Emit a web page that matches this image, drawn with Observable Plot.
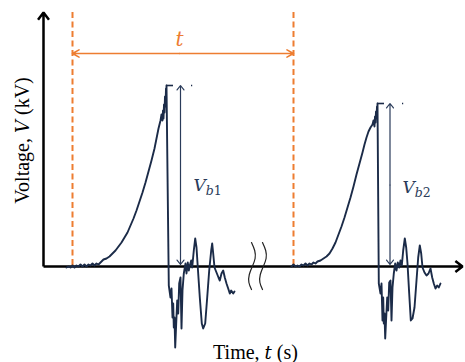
<!DOCTYPE html>
<html><head><meta charset="utf-8">
<script src="https://cdn.jsdelivr.net/npm/d3@7"></script>
<script src="https://cdn.jsdelivr.net/npm/@observablehq/plot@0.6"></script>
<style>html,body{margin:0;padding:0;background:#fff}#chart svg{display:block}
#chart text.serif, #chart text.serif tspan.r{font-family:"Liberation Serif","Times New Roman",Tinos,serif !important}
#chart tspan.m, #chart text.m{font-family:"DejaVu Serif",serif !important;font-style:italic}
</style>
</head><body><div id="chart"></div>
<script>
// ---- data (time in arbitrary units, voltage in kV) ----
const wave1 = [[11.5,-0.05],[12.5,0],[13.5,-0.05],[14.5,0.05],[15.5,-0.05],[16.5,0.05],[17.5,0],[18.5,0.1],[19.5,0],[20.5,0.1],[21.5,0],[22.5,0.1],[23.5,0.05],[24.5,0.15],[25.5,0.05],[26.5,0.15],[27.5,0.1],[28.5,0.2],[30,0.35],[31.5,0.4],[33,0.5],[34.5,0.65],[36,0.8],[37.5,1.0],[39,1.2],[40.5,1.45],[42,1.7],[43.5,2.05],[45,2.4],[46.5,2.8],[48,3.25],[49.5,3.7],[51,4.2],[52.5,4.75],[54,5.3],[55.5,5.9],[56.5,6.4],[57.5,6.9],[58.5,7.3],[59,7.6],[59.5,7.3],[59.75,7.8],[60,7.4],[60.25,8.1],[60.5,7.7],[60.75,8.5],[61,8.0],[61.25,8.9],[61.5,8.55],[61.5,9.05],
[62.65,-0.95],[63.5,-1.55],[64,-1.1],[64.5,-2.55],[64.85,-1.85],[65.15,-3.05],[65.5,-2.55],[65.85,-4.05],[66.35,-2.85],[66.85,-1.7],[67.35,-2.35],[67.85,-0.85],[68.5,-0.55],[69,-3.1],[69.5,-1.2],[70.15,-0.35],[71,0.15],[71.5,-0.35],[72.15,0.2],[72.65,-0.2],[73.15,0.05],[73.85,0.3],[74.35,-0.05],[75.15,0.8],[75.85,1.4],[76.5,0.95],[77.15,-0.05],[78.15,-1.55],[79.15,-2.85],[79.85,-3.1],[80.85,-2.85],[81.85,-1.55],[82.85,-0.2],[83.85,0.8],[84.35,1.15],[84.85,0.65],[85.5,-0.05],[86.5,-0.3],[87.5,-0.55],[88.15,-0.7],[89,-0.35],[89.85,-0.2],[90.65,-0.55],[91.5,-0.85],[92.35,-1.1],[93.15,-1.35],[93.85,-1.2],[94.85,-1.35],[95.5,-1.25]];

const wave2 = [[124,0],[125,0.1],[126,0],[127,0.05],[128,0],[129,0.1],[130,0.05],[131,0.15],[132,0.05],[133,0.15],[134,0.1],[135,0.2],[136,0.15],[137,0.25],[138.5,0.3],[140,0.4],[141.5,0.5],[143,0.65],[144.5,0.9],[146,1.2],[147.5,1.6],[149,2.0],[150.5,2.45],[152,2.95],[153.5,3.45],[155,4.0],[156.5,4.6],[158,5.15],[159.5,5.7],[160.5,6.1],[161.5,6.45],[162.5,6.75],[163.5,6.95],[164.5,7.1],[165,7.3],[165.5,7.0],[165.75,7.5],[166,7.2],[166.25,7.75],[166.5,7.45],[166.75,8.0],[167,7.7],[167,8.15],
[167.65,-0.85],[168.5,-1.35],[169,-0.85],[169.5,-2.7],[169.85,-1.55],[170.15,-2.85],[170.5,-2.35],[170.85,-3.6],[171.35,-2.55],[171.85,-1.55],[172.35,-2.2],[172.85,-0.8],[173.5,-0.7],[174,-2.7],[174.5,-1.05],[175.15,-0.35],[175.85,0.15],[176.5,-0.2],[177.15,0.2],[177.85,-0.05],[178.5,0.3],[179.15,0.05],[179.85,0.8],[180.65,1.4],[181.35,0.95],[182,0.15],[182.85,-1.35],[183.65,-2.7],[184.5,-2.6],[185.5,-2.05],[186.5,-0.7],[187.35,0.45],[188.15,1.05],[188.85,0.65],[189.5,-0.05],[190.5,-0.3],[191.5,-0.45],[192.5,-0.35],[193.5,-0.1],[194.35,-0.55],[195.15,-0.85],[196,-1.1],[196.85,-0.95],[197.65,-1.05],[198.5,-0.85]];

// cycle markers and breakdown annotations
const cycleStartT = [14.5, 125];
const periodArrowV = 10.65;
const periodLabelT = 68;
const peakT = [61.5, 167];
const peakV = [9.05, 8.15];
const peakTickEndT = [65, 170.5];
const peakDotT = [74, 179.5];
const vbArrowT = [68.5, 173.25];
const vbLabelT = [75, 179.5];
const vbLabelV = [4.05, 3.95];
const vbLabels = ["Vb1", "Vb2"];
// axis extents
const axisXEnd = 209.5;
const axisYEnd = 12.7;
const axisBreak1 = [[104,1.2],[105.6,0.8],[105.8,0.4],[104.4,0],[102.9,-0.4],[102.7,-0.8],[104,-1.15]];
const axisBreak2 = [[109.5,1.2],[111.1,0.8],[111.3,0.4],[109.9,0],[108.4,-0.4],[108.2,-0.8],[109.5,-1.15]];
const axisTitles = {x: "Time, t (s)", y: "Voltage, V (kV)"};

const navy = "#1b2b48";
const navy2 = "#2a3b5a";
const orange = "#ed7d31";

const peaks = peakT.map((t, i) => ({t, v: peakV[i], tEnd: peakTickEndT[i], dot: peakDotT[i], at: vbArrowT[i], lt: vbLabelT[i], lv: vbLabelV[i], label: vbLabels[i]}));

const plot = Plot.plot({
  width: 465, height: 362,
  marginLeft: 0, marginRight: 0, marginTop: 0, marginBottom: 0,
  style: {background: "#fff", overflow: "visible"},
  x: {type: "linear", domain: [0, 210], range: [43, 463], axis: null},
  y: {type: "linear", domain: [0, 12.7], range: [266, 12], axis: null},
  marks: [
    Plot.ruleX(cycleStartT, {x: d => d, y1: axisYEnd, y2: 0, stroke: orange, strokeWidth: 2, strokeDasharray: "6,3.5"}),
    Plot.arrow([0], {x1: 0, y1: 0, x2: 0, y2: axisYEnd, stroke: "#000", strokeWidth: 2.5, headLength: 5.4, headAngle: 75, strokeLinecap: "butt"}),
    Plot.arrow([0], {x1: 0, y1: 0, x2: axisXEnd, y2: 0, stroke: "#000", strokeWidth: 2.5, headLength: 5.4, headAngle: 75, strokeLinecap: "butt"}),
    Plot.line(axisBreak1, {x: "0", y: "1", curve: "natural", stroke: "#222", strokeWidth: 1.2}),
    Plot.line(axisBreak2, {x: "0", y: "1", curve: "natural", stroke: "#222", strokeWidth: 1.2}),
    Plot.line(wave1, {x: "0", y: "1", stroke: navy, strokeWidth: 1.9, strokeLinejoin: "round"}),
    Plot.line(wave2, {x: "0", y: "1", stroke: navy, strokeWidth: 1.9, strokeLinejoin: "round"}),
    Plot.ruleY(peaks, {y: "v", x1: "t", x2: "tEnd", stroke: navy, strokeWidth: 1.6}),
    Plot.ruleY(peaks, {y: "v", x1: "dot", x2: d => d.dot + 0.6, stroke: navy, strokeWidth: 1.6}),
    Plot.arrow(peaks, {x1: "at", y1: d => d.v / 2, x2: "at", y2: "v", stroke: navy2, strokeWidth: 1.2, headLength: 7, headAngle: 76}),
    Plot.arrow(peaks, {x1: "at", y1: d => d.v / 2, x2: "at", y2: 0.1, stroke: navy2, strokeWidth: 1.2, headLength: 7, headAngle: 76}),
    Plot.text(peaks, {x: "lt", y: "lv", text: "label", textAnchor: "start", fill: navy2, fontSize: 17}),
    Plot.arrow([0], {x1: periodLabelT, y1: periodArrowV, x2: cycleStartT[0], y2: periodArrowV, stroke: orange, strokeWidth: 1.6, headLength: 7, headAngle: 58}),
    Plot.arrow([0], {x1: periodLabelT, y1: periodArrowV, x2: cycleStartT[1], y2: periodArrowV, stroke: orange, strokeWidth: 1.6, headLength: 7, headAngle: 58}),
    Plot.text(["t"], {x: periodLabelT, y: 11.35, text: d => d, fill: orange, fontSize: 20}),
    Plot.text([axisTitles.x], {x: 106, y: -4.28, text: d => d, fill: "#000", fontSize: 20}),
    Plot.text([axisTitles.y], {x: -10.7, y: 6.3, text: d => d, rotate: -90, fill: "#000", fontSize: 20})
  ]
});

document.getElementById("chart").appendChild(plot);

// rich text: serif titles, italic math symbols and subscripts
d3.select(plot).selectAll("text").each(function () {
  const s = this.textContent;
  const el = d3.select(this);
  if (s === axisTitles.x) {
    el.classed("serif", true).text("");
    el.append("tspan").attr("class", "r").text("Time, ");
    el.append("tspan").attr("class", "m").attr("font-size", 18).text("t");
    el.append("tspan").attr("class", "r").text(" (s)");
  } else if (s === axisTitles.y) {
    el.classed("serif", true).text("");
    el.append("tspan").attr("class", "r").text("Voltage, ");
    el.append("tspan").attr("class", "m").attr("font-size", 18).text("V");
    el.append("tspan").attr("class", "r").text(" (kV)");
  } else if (/^Vb\d$/.test(s)) {
    el.classed("m", true).text("");
    el.append("tspan").text("V");
    el.append("tspan").attr("font-size", 12.5).attr("dy", "0.3em").text("b");
    el.append("tspan").attr("font-size", 12.5).style("font-style", "normal").text(s.slice(2));
  } else if (s === "t") {
    el.classed("m", true);
  }
});
</script></body></html>
